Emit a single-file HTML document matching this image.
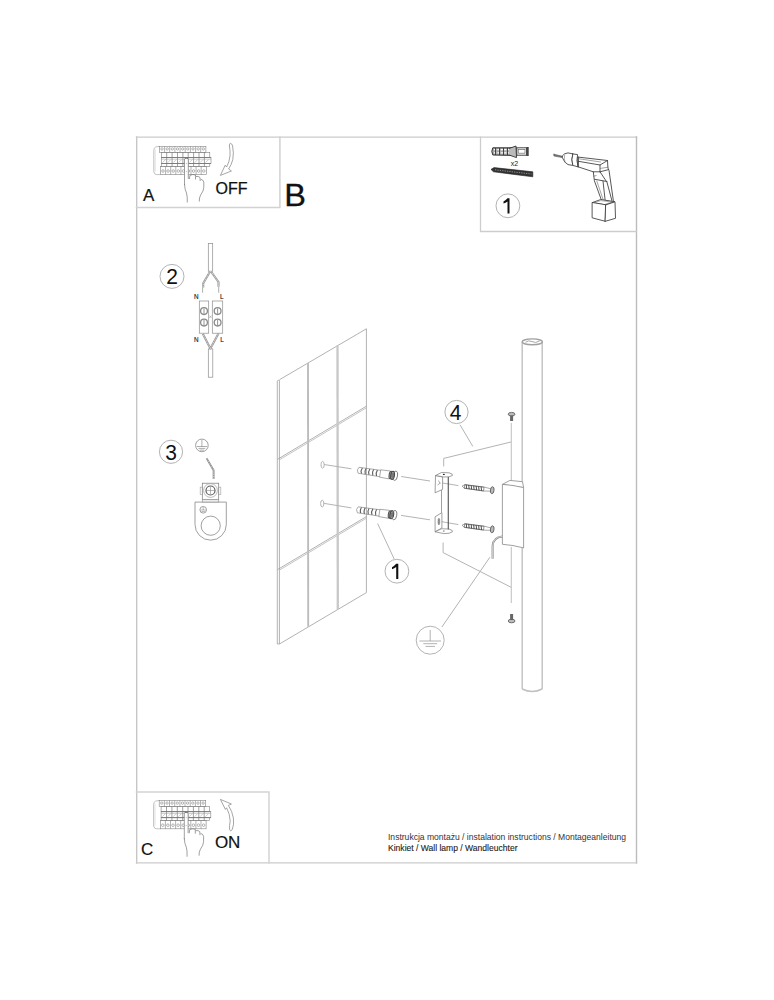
<!DOCTYPE html>
<html><head><meta charset="utf-8">
<style>
html,body{margin:0;padding:0;background:#fff;width:774px;height:1000px;overflow:hidden}
svg{display:block}
text{font-family:"Liberation Sans",sans-serif}
</style></head>
<body>
<svg width="774" height="1000" viewBox="0 0 774 1000">
<rect x="0" y="0" width="774" height="1000" fill="#fff"/>
<!-- outer frame -->
<g fill="none" stroke-linecap="square">
<line x1="136.7" y1="137" x2="136.7" y2="863" stroke="#c4c4c4" stroke-width="1.3"/>
<line x1="136.5" y1="137.1" x2="636.5" y2="137.1" stroke="#cbcbcb" stroke-width="1.4"/>
<line x1="636.5" y1="137" x2="636.5" y2="863" stroke="#bcbcbc" stroke-width="1.4"/>
<line x1="136.5" y1="862.9" x2="636.5" y2="862.9" stroke="#cbcbcb" stroke-width="1.4"/>
<polyline points="136.5,207.6 279.9,207.6 279.9,137.1" stroke="#d2d2d2" stroke-width="1.5"/>
<polyline points="480.5,137.1 480.5,231.5 636.5,231.5" stroke="#cdcdcd" stroke-width="1.3"/>
<polyline points="136.5,792 269.0,792 269.0,862.9" stroke="#d4d4d4" stroke-width="1.5"/>
</g>
<!-- WALL -->
<g fill="none" stroke="#989898" stroke-width="0.75" stroke-linejoin="round">
<path d="M277.3,644 L277.3,381.2 Q278.4,379.2 279.4,380.4 L279.4,644 Z M279.5,379.7 L366.4,328.8 L366.4,592.6 L279.6,643.9"/>
<line x1="277.5" y1="459.3" x2="366.4" y2="406.2"/>
<line x1="279.6" y1="459.7" x2="366.4" y2="407.8" stroke="#b0b0b0"/>
<line x1="277.5" y1="569.6" x2="366.4" y2="516.6"/>
<line x1="279.6" y1="570.0" x2="366.4" y2="518.2" stroke="#b0b0b0"/>
</g>
<g fill="none" stroke="#bcbcbc" stroke-width="1.9">
<line x1="308" y1="362.9" x2="308.2" y2="626.7"/>
<line x1="337.5" y1="345.6" x2="337.8" y2="609.4" stroke="#c8c8c8" stroke-width="2.3"/>
</g>

<!-- DOWELS -->
<defs>
<g id="dowel">
<path d="M1.2,-3 L23,-3.2 L23,-3.7 L32.5,-4 M1.2,3 L23,3.2 L23,3.7 L32.5,4 M1.2,-3 Q-1.3,0 1.2,3 M23,-3.6 L23,3.6" fill="none" stroke="#8c8c8c" stroke-width="0.7"/>
<g fill="none" stroke="#5a5a5a" stroke-width="1.1">
<path d="M4.6,-2.8 Q3,0 4.6,2.8"/><path d="M8.4,-2.9 Q6.8,0 8.4,2.9"/><path d="M12.2,-2.9 Q10.6,0 12.2,2.9"/><path d="M16,-3 Q14.4,0 16,3"/><path d="M19.8,-3 Q18.2,0 19.8,3"/>
</g>
<ellipse cx="33.6" cy="0" rx="1.5" ry="3.8" fill="#999" stroke="#555" stroke-width="1.1"/>
<ellipse cx="35.6" cy="0" rx="1.8" ry="4.1" fill="#aaa" stroke="#444" stroke-width="1.1"/>
<ellipse cx="35.8" cy="0" rx="0.8" ry="2" fill="none" stroke="#555" stroke-width="0.7"/>
<ellipse cx="38.2" cy="0" rx="2.3" ry="4.7" fill="none" stroke="#777" stroke-width="0.9"/>
</g>
<g id="screw">
<path d="M0,0 L2.5,-1.6 L22,-2 L29,-1.2 M0,0 L2.5,1.6 L22,2 L29,1.2" fill="none" stroke="#777" stroke-width="0.6"/>
<rect x="2.5" y="-1.9" width="19.5" height="3.8" fill="none" stroke="#555" stroke-width="0.6"/>
<path d="M4,-2 L5,2 M6.5,-2 L7.5,2 M9,-2 L10,2 M11.5,-2 L12.5,2 M14,-2 L15,2 M16.5,-2 L17.5,2 M19,-2 L20,2" stroke="#444" stroke-width="0.9"/>
<ellipse cx="30.5" cy="0" rx="1.8" ry="3.5" fill="#bbb" stroke="#555" stroke-width="0.8"/>
</g>
</defs>
<use href="#dowel" transform="translate(357.4,470.1) rotate(8.5)"/>
<use href="#dowel" transform="translate(356.6,509.6) rotate(8.3)"/>
<use href="#screw" transform="translate(462,486.1) rotate(7.7)"/>
<use href="#screw" transform="translate(462,525.2) rotate(7.7)"/>
<!-- hole marks & connecting lines -->
<g fill="none" stroke="#b4b4b4" stroke-width="1.0">
<ellipse cx="322.6" cy="464.8" rx="1.6" ry="3.4"/>
<ellipse cx="322.2" cy="503.6" rx="1.6" ry="3.4"/>
<line x1="324" y1="464.5" x2="351.4" y2="468.8"/>
<line x1="323.6" y1="503.3" x2="351.4" y2="507.9"/>
<line x1="401.2" y1="476.5" x2="430" y2="481"/>
<line x1="401" y1="515.4" x2="430" y2="519.8"/>
<line x1="440" y1="482.6" x2="458.4" y2="485.6"/>
<line x1="440" y1="521.4" x2="458.4" y2="524.6"/>
<!-- leader 1 -->
<line x1="377.6" y1="523.5" x2="394.2" y2="559"/>
<!-- leader 4 -->
<line x1="460" y1="424.8" x2="472.8" y2="446.4"/>
<!-- bracket outline -->
<polyline points="443.7,466.4 443.7,458.4 511.3,441.9"/>
<polyline points="443.1,542.5 443.1,552.6 511.3,587.4"/>
<!-- axis line -->
<line x1="511.3" y1="423" x2="511.3" y2="480.4" stroke="#c4c4c4" stroke-width="1.1"/>
<line x1="511.3" y1="547" x2="511.3" y2="603" stroke="#c4c4c4" stroke-width="1.1"/>
<!-- ground leader -->
<line x1="441.9" y1="627" x2="489.9" y2="557.2"/>
</g>
<!-- BRACKET -->
<g fill="#fff" stroke="#777" stroke-width="0.7" stroke-linejoin="round">
<path d="M441.5,477 L441.5,512.6 M448.3,477 L448.3,529.5" fill="none"/>
<path d="M435.5,475.5 L435.1,492.8 L442.6,489.4 L442.6,477 Z"/>
<path d="M435.5,475.5 L441.5,472.5 L449,472.8 Q453.5,474 452.4,475.5 Q450,477.3 444,477 Z"/>
<path d="M435.1,516.8 L441.9,512.6 L441.9,528 L435.1,531.8 Z"/>
<path d="M435.1,531.8 L441.5,528.8 L449,529 Q453.5,530.5 452.4,531.8 Q450,533.8 443.8,533.6 Z"/>
</g>
<line x1="448.3" y1="477" x2="448.3" y2="529.5" stroke="#555" stroke-width="0.9"/>
<ellipse cx="443.8" cy="474.4" rx="1" ry="0.6" fill="#222"/>
<ellipse cx="443.8" cy="531" rx="0.9" ry="0.6" fill="#555"/>
<ellipse cx="438.9" cy="521.6" rx="0.9" ry="3.3" fill="#999" stroke="#666" stroke-width="0.5"/>
<path d="M438.5,480.5 L440,483.5 M437.5,485 L440.5,483" stroke="#777" stroke-width="0.6" fill="none"/>
<!-- ROD -->
<g fill="none" stroke="#c0c0c0" stroke-width="1.4">
<line x1="522.2" y1="342" x2="522.2" y2="481.7"/>
<line x1="522.2" y1="548" x2="522.2" y2="689"/>
<line x1="542.2" y1="342" x2="542.2" y2="689"/>
<path d="M522.2,689 Q532.2,694 542.2,689"/>
<ellipse cx="532.3" cy="341.8" rx="10.1" ry="2.9" stroke="#a0a0a0"/>
<path d="M525.5,342.3 Q528.5,339.8 532,341.6 Q535.5,343.6 539.5,341" stroke="#a8a8a8" stroke-width="1"/>
</g>
<!-- FIXTURE BOX -->
<g fill="#fff" stroke="#888" stroke-width="0.8" stroke-linejoin="round">
<path d="M502.4,484.4 L509.9,480.4 L522.5,481.7 L523.6,487.6 Z"/>
<path d="M502.4,484.4 Q513,485 523.6,487.6 L523.6,547.9 Q513,545 502.4,544.3 Z"/>
</g>
<!-- cable -->
<path d="M502.4,536.4 Q493.2,537 492.6,546 L492.6,558.8" fill="none" stroke="#888" stroke-width="2"/>
<path d="M502.4,536.4 Q493.2,537 492.6,546 L492.6,558.8" fill="none" stroke="#fff" stroke-width="0.6"/>
<!-- small screws on axis -->
<g>
<ellipse cx="511.6" cy="414.2" rx="3.4" ry="1.8" fill="#bbb" stroke="#555" stroke-width="0.8"/>
<rect x="510.1" y="415.5" width="3" height="5.5" fill="#666"/>
<ellipse cx="511.6" cy="621" rx="3.4" ry="1.8" fill="#bbb" stroke="#555" stroke-width="0.8"/>
<rect x="510.1" y="614" width="3" height="6" fill="#666"/>
</g>
<!-- GROUND SYMBOL big -->
<g fill="none" stroke="#999" stroke-width="0.75">
<circle cx="430.2" cy="640.2" r="14"/>
<line x1="430.2" y1="630" x2="430.2" y2="641"/>
<line x1="419.4" y1="641" x2="441" y2="641"/>
<line x1="423.3" y1="643.7" x2="437.2" y2="643.7"/>
<line x1="425.5" y1="646.4" x2="435" y2="646.4"/>
</g>

<!-- BOX A -->
<g id="panelA">
<path d="M159.4,146.3 L155.8,146.9 Q153.8,147.8 153.8,150.3 L153.8,171.8 Q154.3,174.6 156.8,174.6 L160.5,174.6" fill="none" stroke="#a8a8a8" stroke-width="0.7"/>
<path d="M155.2,149.5 L155.2,171.5" stroke="#ccc" stroke-width="0.6"/>
<g fill="none" stroke="#808080" stroke-width="0.6">
<rect x="159.4" y="146.3" width="46.5" height="6"/>
<rect x="160.5" y="166.3" width="45.8" height="8.3"/>
<rect x="161.3" y="152.3" width="48.5" height="5.2"/>
<rect x="161.3" y="157.5" width="49.7" height="6"/>
<rect x="161.3" y="163.5" width="48.5" height="2.8"/>
<path d="M164.6,146.3 L164.6,152.3 M165.6,166.3 L165.6,174.6 M169.7,146.3 L169.7,152.3 M170.7,166.3 L170.7,174.6 M174.9,146.3 L174.9,152.3 M175.8,166.3 L175.8,174.6 M180.1,146.3 L180.1,152.3 M180.9,166.3 L180.9,174.6 M185.2,146.3 L185.2,152.3 M185.9,166.3 L185.9,174.6 M190.4,146.3 L190.4,152.3 M191.0,166.3 L191.0,174.6 M195.6,146.3 L195.6,152.3 M196.1,166.3 L196.1,174.6 M200.7,146.3 L200.7,152.3 M201.2,166.3 L201.2,174.6 "/>
<path d="M166.7,152.3 L166.7,166.3 M172.1,152.3 L172.1,166.3 M177.5,152.3 L177.5,166.3 M182.9,152.3 L182.9,166.3 M188.2,152.3 L188.2,166.3 M193.6,152.3 L193.6,166.3 M199.0,152.3 L199.0,166.3 M204.4,152.3 L204.4,166.3 " stroke="#707070" stroke-width="0.65"/>
<path d="M161.3,157.5 L211,157.5 M161.3,163.5 L211,163.5" stroke="#777" stroke-width="0.75"/>
<path d="M161.3,159.2 L211,159.2" stroke="#999" stroke-width="0.5"/>
<path d="M162.5,162.5 L165.5,159.5 M167.9,162.5 L170.9,159.5 M173.3,162.5 L176.3,159.5 M178.7,162.5 L181.7,159.5 M184.1,162.5 L187.1,159.5 M189.4,162.5 L192.4,159.5 M194.8,162.5 L197.8,159.5 M200.2,162.5 L203.2,159.5 M205.6,162.5 L208.6,159.5 " stroke="#aaa" stroke-width="0.6"/>
</g>
<g fill="none" stroke="#777" stroke-width="0.55">
<circle cx="162.0" cy="148.9" r="1.2"/>
<circle cx="163.0" cy="171" r="1.3"/>
<circle cx="167.2" cy="148.9" r="1.2"/>
<circle cx="168.1" cy="171" r="1.3"/>
<circle cx="172.3" cy="148.9" r="1.2"/>
<circle cx="173.2" cy="171" r="1.3"/>
<circle cx="177.5" cy="148.9" r="1.2"/>
<circle cx="178.3" cy="171" r="1.3"/>
<circle cx="182.7" cy="148.9" r="1.2"/>
<circle cx="183.4" cy="171" r="1.3"/>
<circle cx="187.8" cy="148.9" r="1.2"/>
<circle cx="188.5" cy="171" r="1.3"/>
<circle cx="193.0" cy="148.9" r="1.2"/>
<circle cx="193.6" cy="171" r="1.3"/>
<circle cx="198.2" cy="148.9" r="1.2"/>
<circle cx="198.7" cy="171" r="1.3"/>
<circle cx="203.3" cy="148.9" r="1.2"/>
<circle cx="203.8" cy="171" r="1.3"/>
</g>
<path d="M184.5,185 L184.5,159 Q186.4,156.8 188.3,159 L188.3,179" fill="#fff" stroke="#808080" stroke-width="0.75"/>
<path d="M184.5,184 Q184.8,190 186.5,193 Q187.5,196 187.3,202.5" fill="none" stroke="#777" stroke-width="0.7"/>
<path d="M189.5,179 L189.8,175.5 Q192.5,173.8 195.5,175 L195.5,179.5 M196,176.5 Q198.5,175.8 200,177.5 L200.2,181 M200.8,179.2 Q203,179.5 203.8,182 Q204.2,188 203,191 Q200,195.5 199.5,198 L199.3,201.5" fill="none" stroke="#777" stroke-width="0.7"/>
<path d="M184.8,158.2 L188,158.2" stroke="#666" stroke-width="0.8"/>
<path d="M186.4,163 L186.4,163.6 M186.4,171 L186.4,171.6" stroke="#777" stroke-width="0.8"/>
</g>
<path d="M230.4,143.2 Q232,143.5 232.6,146 Q234,153 232.8,159.5 Q231.6,164.5 228.6,169 L231.4,171 L220.4,175.4 L225.2,165.2 L226.6,167 Q229.4,162 230,156 Q230.3,150 229.4,146 Q229.2,143.5 230.4,143.2 Z" fill="#fff" stroke="#888" stroke-width="0.75" stroke-linejoin="round"/>
<!-- BOX C -->
<use href="#panelA" transform="translate(-0.2,654.2)"/>
<path d="M220.4,799.4 L231.4,804 L228.4,805.4 Q232.2,811 233.4,818 Q234.2,825 232.4,829 Q230.8,832.6 229.6,829.4 Q229.2,826 230.2,821 Q230,814 226.6,807.8 L225.4,809.4 Z" fill="#fff" stroke="#888" stroke-width="0.75" stroke-linejoin="round"/>

<!-- SECTION 2 wiring -->
<g fill="none" stroke="#8c8c8c" stroke-width="0.7">
<rect x="208.3" y="243.5" width="4.4" height="27.7"/>
<rect x="208.3" y="348.9" width="4.5" height="28.3"/>
<rect x="199.3" y="301" width="9.4" height="32.2"/>
<rect x="212.3" y="301" width="10.4" height="32.2"/>
<circle cx="204" cy="311.1" r="3.4" stroke="#8a8a8a" stroke-width="1.3"/>
<circle cx="204" cy="322.6" r="3.4" stroke="#8a8a8a" stroke-width="1.3"/>
<circle cx="217.6" cy="311.1" r="3.4" stroke="#8a8a8a" stroke-width="1.3"/>
<circle cx="217.6" cy="322.6" r="3.4" stroke="#8a8a8a" stroke-width="1.3"/>
<path d="M204,308.5 L204,313.7 M204,320 L204,325.2 M217.6,308.5 L217.6,313.7 M217.6,320 L217.6,325.2" stroke="#666"/>
<path d="M209.2,315.5 L211.6,318 M211.6,315.5 L209.2,318" stroke="#999" stroke-width="0.6"/>
<line x1="202.6" y1="287.4" x2="202.6" y2="292.8"/>
<line x1="218.7" y1="286.8" x2="218.7" y2="292.8"/>
</g>
<g fill="none" stroke="#9a9a9a" stroke-width="2.1" stroke-linejoin="round">
<polyline points="210.1,271.5 203.2,283.2 203.2,287.4"/>
<polyline points="211,271.5 218.5,282 218.5,286.8"/>
<polyline points="202.7,333.4 210.4,348.5 218.5,333.4"/>
</g>
<g fill="none" stroke="#fff" stroke-width="0.7" stroke-dasharray="1,0.8">
<polyline points="210.1,271.5 203.2,283.2 203.2,287.4"/>
<polyline points="211,271.5 218.5,282 218.5,286.8"/>
<polyline points="202.7,333.4 210.4,348.5 218.5,333.4"/>
</g>
<g fill="#222" font-size="6.3" stroke="#222" stroke-width="0.15">
<text x="193.9" y="298.6">N</text>
<text x="220" y="298.6">L</text>
<text x="193.9" y="341.8">N</text>
<text x="220.3" y="341.8">L</text>
</g>

<!-- SECTION 3 ground lug -->
<g fill="none" stroke="#777" stroke-width="0.7">
<circle cx="201.9" cy="445.4" r="6.3"/>
<path d="M201.9,440 L201.9,446.5 M196.8,446.5 L207,446.5 M198.5,448.4 L205.3,448.4 M199.7,450.1 L204.1,450.1" stroke-width="0.6"/>
<path d="M195,502.1 L226.3,502.1 L226.3,524.5 A15.65,15.65 0 0 1 195,524.5 Z" fill="#fff"/>
<circle cx="210.7" cy="525.7" r="9.6"/>
<circle cx="203.2" cy="509.8" r="3.3"/>
<path d="M203.2,507 L203.2,510 M200.6,510 L205.8,510 M201.5,511.5 L204.9,511.5" stroke-width="0.5"/>
<rect x="200.2" y="487.2" width="2.1" height="7.2" fill="#fff" stroke="#aaa"/>
<rect x="218.7" y="487.2" width="2.1" height="7.2" fill="#fff" stroke="#aaa"/>
<rect x="202.3" y="483.2" width="16.4" height="16.5" fill="#fff"/>
<rect x="202.3" y="499.7" width="16.4" height="2.3" fill="#f2f2f2" stroke="#999"/>
<circle cx="210.5" cy="490.5" r="6.9" stroke="#aaa" stroke-width="0.8"/>
<circle cx="210.5" cy="490.5" r="4.5" stroke="#5a5a5a" stroke-width="1.2"/>
<path d="M210.5,487 L210.5,494 M207,490.5 L214,490.5" stroke="#888" stroke-width="0.6"/>
</g>
<g fill="none" stroke="#888" stroke-width="1.8" stroke-linejoin="round">
<polyline points="206.5,458.1 213.6,470.2 213.6,479"/>
</g>
<g fill="none" stroke="#fff" stroke-width="0.6" stroke-dasharray="1,0.8">
<polyline points="206.5,458.1 213.6,470.2 213.6,479"/>
</g>

<!-- BOX 1: anchor, screw, drill -->
<g>
<path d="M492.8,147.8 Q490.8,151.3 492.8,155 L516.5,155.5 L516.5,147.8 Z" fill="#a8a8a8" stroke="#333" stroke-width="1"/>
<path d="M494,149.6 L515,149.6 M494,152.9 L515,152.9" stroke="#fff" stroke-width="1.1" stroke-dasharray="2.2,1.2"/>
<path d="M495.5,148 L495.5,155 M499.5,148 L499.5,155 M503.5,148 L503.5,155 M507.5,148 L507.5,155 M511.5,148 L511.5,155" stroke="#333" stroke-width="0.9"/>
<path d="M509,148.5 L516,146 L516.5,157.6 L509,155" fill="#bbb" stroke="#333" stroke-width="0.9"/>
<rect x="516.8" y="147.8" width="9.8" height="7.4" fill="#fff" stroke="#444" stroke-width="1"/>
<rect x="518.2" y="149.6" width="6.8" height="3.6" fill="none" stroke="#666" stroke-width="0.7"/>
<rect x="526.4" y="147" width="2.3" height="9" fill="#444"/>
<text x="510.8" y="165.7" font-size="7" fill="#222">x2</text>
<path d="M491,169.4 L494,167.6 L532.8,171.8 L532.8,176.8 L493.5,171.8 Z" fill="#333" stroke="#222" stroke-width="0.6"/>
<path d="M495,169.8 L531.5,174" stroke="#999" stroke-width="0.9" stroke-dasharray="1.3,1.1"/>
</g>
<g fill="#fff" stroke="#3a3a3a" stroke-width="0.85" stroke-linejoin="round" stroke-linecap="round">
<path d="M554,154.3 L562.5,156.3 L562.5,157.6 L554,156 Q553.3,155.1 554,154.3 Z" fill="#777" stroke="#555" stroke-width="0.6"/>
<path d="M562.5,155.6 Q564,153.2 568,152.9 L572.8,153.9 Q571,159.6 572.8,165.4 L568,164.6 Q564.4,163 562.5,158 Z"/>
<path d="M564.6,155 Q563.6,159 565.2,162.6" fill="none" stroke="#777" stroke-width="0.6"/>
<path d="M572.8,153.9 L577.6,154.6 Q576,160.6 578.2,166.9 L572.8,165.4 Q571,159.6 572.8,153.9 Z"/>
<path d="M578.3,157.1 L607.5,160.5 L607.9,168 L609,170.3 L613.5,201.8 L601.5,200.3 L594.4,180.8 L593.3,171.8 L578.3,166.9 Z"/>
<path d="M578.3,161.3 L600,165 L607.5,160.5 M600,165 L600,171.8 L593.3,171.8 M600,171.8 L608.3,169.7 M594.8,179.3 L606.8,181.5 M600,171.8 L606,180.8 M603,181 L605.3,201.8 M606.8,181.5 L612,201 M578.3,157.1 L578.3,166.9" fill="none"/>
<path d="M579,158.8 L600.6,162 M600.5,168.4 L608.2,167.2 M596.8,181 L603.6,201 M593.4,176.2 L596.2,175.6" fill="none" stroke="#666" stroke-width="0.6"/>
<path d="M592.5,202.5 L600.8,199.5 L615,201.8 L606,204.8 Z"/>
<path d="M595,202.4 L601,200.6 L612.5,202.2 L605.8,203.9" fill="none" stroke="#777" stroke-width="0.55"/>
<path d="M592.5,202.5 L606,204.8 L605.3,221.3 L592.5,217.9 Z"/>
<path d="M606,204.8 L615,201.8 L615.5,218.3 L605.3,221.3 Z"/>
</g>
<!-- texts -->
<g fill="#111">
<text x="143.1" y="200.8" font-size="17" stroke="#111" stroke-width="0.2">A</text>
<text x="215.6" y="193.5" font-size="16" stroke="#111" stroke-width="0.25">OFF</text>
<text transform="translate(284.3,205.5) scale(1.04,1)" font-size="31.3" stroke="#111" stroke-width="0.3">B</text>
<text x="140.9" y="855.0" font-size="17" stroke="#111" stroke-width="0.2">C</text>
<text x="214.9" y="847.6" font-size="17" stroke="#111" stroke-width="0.2">ON</text>
<text x="388" y="839.8" font-size="8.55" fill="#333">Instrukcja montażu / instalation instructions / Montageanleitung</text>
<text x="388" y="850.6" font-size="8.55" fill="#1a1a1a" stroke="#1a1a1a" stroke-width="0.1">Kinkiet / Wall lamp / Wandleuchter</text>
</g>
<!-- number circles -->
<g fill="none" stroke="#a0a0a0" stroke-width="0.8">
<circle cx="507.9" cy="205.8" r="11.9"/>
<circle cx="172" cy="276.4" r="12"/>
<circle cx="171" cy="451.8" r="11.6"/>
<circle cx="456.5" cy="412" r="11.6"/>
<circle cx="396.9" cy="571.2" r="11.9"/>
</g>
<g fill="#111" font-size="21" text-anchor="middle">
<text transform="translate(172,284.3) scale(1,1.08)">2</text>
<text transform="translate(171,459.7) scale(1,1.08)">3</text>
<text transform="translate(455.7,419.8) scale(1,1.08)">4</text>
</g>
<path d="M507.5,198.3 L509.5,198.3 L509.5,213.5 L507.5,213.5 L507.5,201.5 Q505.6,202.9 503.5,203.6 L503.5,201.6 Q505.3,200.8 507.5,198.3 Z" fill="#111"/>
<path d="M396.2,563.8 L398.3,563.8 L398.3,579 L396.2,579 L396.2,567.0 Q394.3,568.5 392.0,569.2 L392.0,567.2 Q394.0,566.3 396.2,563.8 Z" fill="#111"/>
</svg>
</body></html>
